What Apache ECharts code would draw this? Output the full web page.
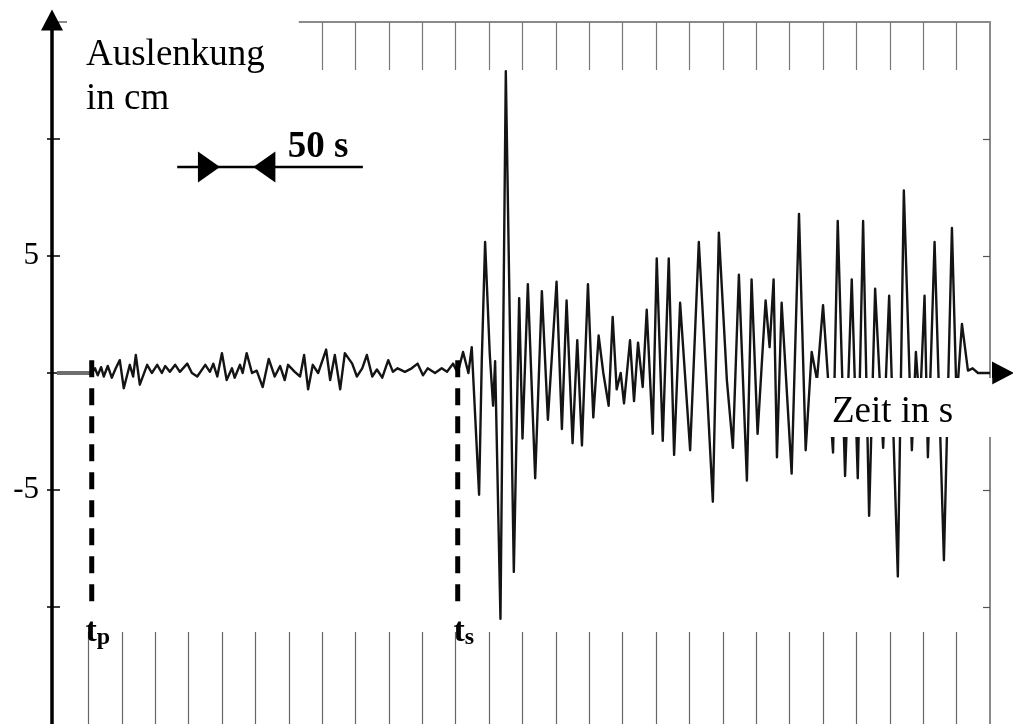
<!DOCTYPE html>
<html><head><meta charset="utf-8">
<script src="https://cdn.jsdelivr.net/npm/echarts@6/dist/echarts.min.js"></script>
<style>html,body{margin:0;padding:0;background:#fff}#c{width:1013px;height:724px}</style>
</head><body><div id="c"></div>
<script>
// ---- data (time in s, displacement in cm) ----
const tickTimes = [50,100,150,200,250,300,350,400,450,500,550,600,650,700,750,800,850,900,950,1000,1050,1100,1150,1200,1250,1300,1350];
const yTickValues = [-10, -5, 0, 5, 10];
const yLabelValues = [5, -5];
const preSignal = [[3,0],[55,0]];
const quietTrace = [[55,0],[60,0.2],[64,-0.1],[69,0.25],[73,-0.15],[79,0.3],[85,-0.2],[91,0.2],[97,0.55],[103,-0.65],[112,0.35],[117,-0.15],[121,0.77],[127,-0.5],[138,0.35],[145,0],[153,0.35],[160,0],[165,0.3],[172,0.05],[180,0.35],[187,0.05],[198,0.4],[205,0],[213,-0.15],[225,0.35],[232,0.05],[237,0.4],[243,-0.15],[250,0.85],[257,-0.3],[265,0.2],[269,-0.2],[277,0.35],[281,0],[287,0.85],[295,0],[302,0.1],[311,-0.6],[320,0.6],[329,-0.15],[337,0.3],[344,-0.3],[349,0.35],[359,0.05],[367,-0.15],[373,0.77],[379,-0.7],[386,0.35],[394,0],[406,1.0],[412,-0.3],[419,0.77],[427,-0.7],[434,0.85],[445,0.4],[452,-0.15],[460,0.2],[467,0.77],[475,-0.15],[482,0.15],[490,-0.2],[499,0.55],[506,0.05],[513,0.2],[524,0.05],[534,0.2],[543,0.4],[551,-0.1],[558,0.2],[569,0],[579,0.2],[587,0.05],[596,0.4],[603,0]];
const strongTrace = [[611,0.9],[619,0],[624,1.1],[635,-5.2],[639,0.5],[644,5.6],[651,0.8],[656,-1.4],[659,0.5],[667,-10.5],[675,12.9],[687,-8.5],[695,3.2],[700,-2.8],[708,3.8],[719,-4.5],[729,3.5],[738,-2.0],[751,3.9],[759,-2.4],[766,3.1],[775,-3.0],[782,1.4],[789,-3.1],[798,3.8],[806,-1.9],[814,1.6],[821,0],[829,-1.4],[835,2.4],[841,-0.7],[847,0],[852,-1.3],[861,1.4],[867,-1.2],[873,1.3],[880,-0.6],[886,2.7],[895,-2.6],[901,4.9],[910,-2.9],[919,4.9],[927,-3.5],[936,3.0],[951,-3.3],[964,5.6],[976,-0.6],[985,-5.5],[994,6.0],[1006,-0.3],[1015,-3.2],[1024,4.2],[1036,-4.6],[1043,4.0],[1052,-2.6],[1064,3.1],[1070,1.1],[1076,4.0],[1081,-3.6],[1088,3.0],[1103,-4.3],[1114,6.8],[1124,-3.3],[1133,0.9],[1141,-0.3],[1150,2.9],[1165,-3.4],[1172,6.5],[1183,-4.4],[1193,4.0],[1202,-4.5],[1210,6.5],[1219,-6.1],[1228,3.6],[1240,-3.2],[1249,3.3],[1262,-8.7],[1271,7.8],[1283,-3.3],[1289,0.9],[1295,-1.5],[1302,3.3],[1307,-3.6],[1317,5.6],[1331,-8.0],[1343,6.2],[1350,-1.2],[1358,2.1],[1367,0.1],[1374,0.2],[1382,0],[1400,0]];
const axisEnd = [1400, 0];
const phaseTimes = [55, 603];
const phaseNames = ['p', 's'];
const dashTop = 0.55, dashBottom = -9.8;
const scaleBar = [[183, 8.8], [461, 8.8]];
const scaleArrowTips = [247, 297];
const scaleLabelPos = [394, 9.66];
const scaleLabel = '50 s';

const FONT = 'Liberation Serif';
const chart = echarts.init(document.getElementById('c'), null, {renderer: 'canvas'});

const phaseDash = phaseTimes.map(t => ({
  type: 'line', data: [[t, dashTop], [t, dashBottom]], showSymbol: false, silent: true, z: 4,
  lineStyle: {color: '#000', width: 5, type: [17, 11], cap: 'butt'}
}));

chart.setOption({
  animation: false,
  backgroundColor: '#fff',
  title: [
    {text: 'Auslenkung\nin cm', left: 67, top: 12, padding: [21, 34, 6, 19], backgroundColor: '#fff',
     textStyle: {fontFamily: FONT, fontSize: 37, fontWeight: 'normal', color: '#000', lineHeight: 44}},
    {text: 'Zeit in s', left: 813, top: 378, padding: [13, 39, 3, 19], backgroundColor: '#fff',
     textStyle: {fontFamily: FONT, fontSize: 37, fontWeight: 'normal', color: '#000', lineHeight: 43}}
  ],
  grid: {left: 55, right: 23, top: 22, bottom: 0, containLabel: false, outerBoundsMode: 'none'},
  xAxis: [
    {type: 'value', min: 0, max: 1400, position: 'bottom',
     axisLine: {show: false}, axisTick: {show: false}, axisLabel: {show: false}, splitLine: {show: false}},
    {type: 'value', min: 0, max: 1400, position: 'top',
     axisLine: {onZero: false, lineStyle: {color: '#8a8a8a', width: 2}},
     axisTick: {show: true, inside: true, length: 48, customValues: tickTimes, lineStyle: {color: '#777', width: 1.2}},
     axisLabel: {show: false}, splitLine: {show: false}},
    {type: 'value', min: 0, max: 1400, position: 'bottom', offset: 0,
     axisLine: {show: false, onZero: false},
     axisTick: {show: true, inside: true, length: 92, customValues: tickTimes, lineStyle: {color: '#666', width: 1.2}},
     axisLabel: {show: false}, splitLine: {show: false}}
  ],
  yAxis: [
    {type: 'value', min: -15, max: 15, interval: 5, position: 'left', offset: 3,
     axisLine: {show: true, onZero: false, lineStyle: {color: '#000', width: 3.5}, symbol: ['none', 'triangle'], symbolSize: [22, 21], symbolOffset: [0, 2]},
     axisTick: {show: true, inside: false, length: 5, customValues: yTickValues, lineStyle: {color: '#000', width: 1.5}},
     axisLabel: {show: true, margin: 13, fontFamily: FONT, fontSize: 31, color: '#000', customValues: yLabelValues,
       formatter: v => String(v)},
     splitLine: {show: false}},
    {type: 'value', min: -15, max: 15, interval: 5, position: 'left', offset: 3,
     axisLine: {show: false, onZero: false},
     axisTick: {show: true, inside: true, length: 8, customValues: yTickValues, lineStyle: {color: '#000', width: 1.5}},
     axisLabel: {show: false}, splitLine: {show: false}},
    {type: 'value', min: -15, max: 15, interval: 5, position: 'right',
     axisLine: {show: true, onZero: false, lineStyle: {color: '#8a8a8a', width: 2}},
     axisTick: {show: true, inside: true, length: 7, customValues: [-10, -5, 5, 10], lineStyle: {color: '#555', width: 1.2}},
     axisLabel: {show: false}, splitLine: {show: false}}
  ],
  series: [
    {type: 'line', data: preSignal, showSymbol: false, silent: true, z: 3,
     lineStyle: {color: '#6e6e6e', width: 4}},
    {type: 'line', data: quietTrace.concat(strongTrace), showSymbol: false, silent: true, z: 3,
     lineStyle: {color: '#141414', width: 2.4, join: 'round'}},
    ...phaseDash,
    {type: 'scatter', silent: true, z: 5, symbolSize: 1, itemStyle: {color: 'rgba(0,0,0,0)', opacity: 1},
     data: phaseTimes.map((t, i) => ({value: [t, dashBottom], name: phaseNames[i]})),
     label: {show: true, position: 'bottom', distance: 12, offset: [6, 0],
       formatter: p => '{t|t}{s|' + p.name + '}',
       rich: {t: {fontFamily: FONT, fontSize: 34, fontWeight: 'bold', color: '#000'},
              s: {fontFamily: FONT, fontSize: 24, fontWeight: 'bold', color: '#000', padding: [11, 0, 0, 0]}}}},
    {type: 'line', data: scaleBar, showSymbol: false, silent: true, z: 4,
     lineStyle: {color: '#000', width: 2.5}},
    {type: 'scatter', silent: true, z: 5, itemStyle: {color: '#000', opacity: 1},
     data: [
       {value: [scaleArrowTips[0], scaleBar[0][1]], symbol: 'path://M0 0L22 15.5L0 31Z', symbolSize: [22, 31], symbolOffset: [-11, 0]},
       {value: [scaleArrowTips[1], scaleBar[0][1]], symbol: 'path://M22 0L0 15.5L22 31Z', symbolSize: [22, 31], symbolOffset: [11, 0]},
       {value: axisEnd, symbol: 'path://M0 0L22 11.5L0 23Z', symbolSize: [22, 23], symbolOffset: [13, 0]}
     ]},
    {type: 'scatter', silent: true, z: 5, symbolSize: 1, itemStyle: {color: 'rgba(0,0,0,0)', opacity: 1},
     data: [scaleLabelPos],
     label: {show: true, position: 'inside', formatter: scaleLabel,
       fontFamily: FONT, fontSize: 37, fontWeight: 'bold', color: '#000'}}
  ]
});
</script></body></html>
